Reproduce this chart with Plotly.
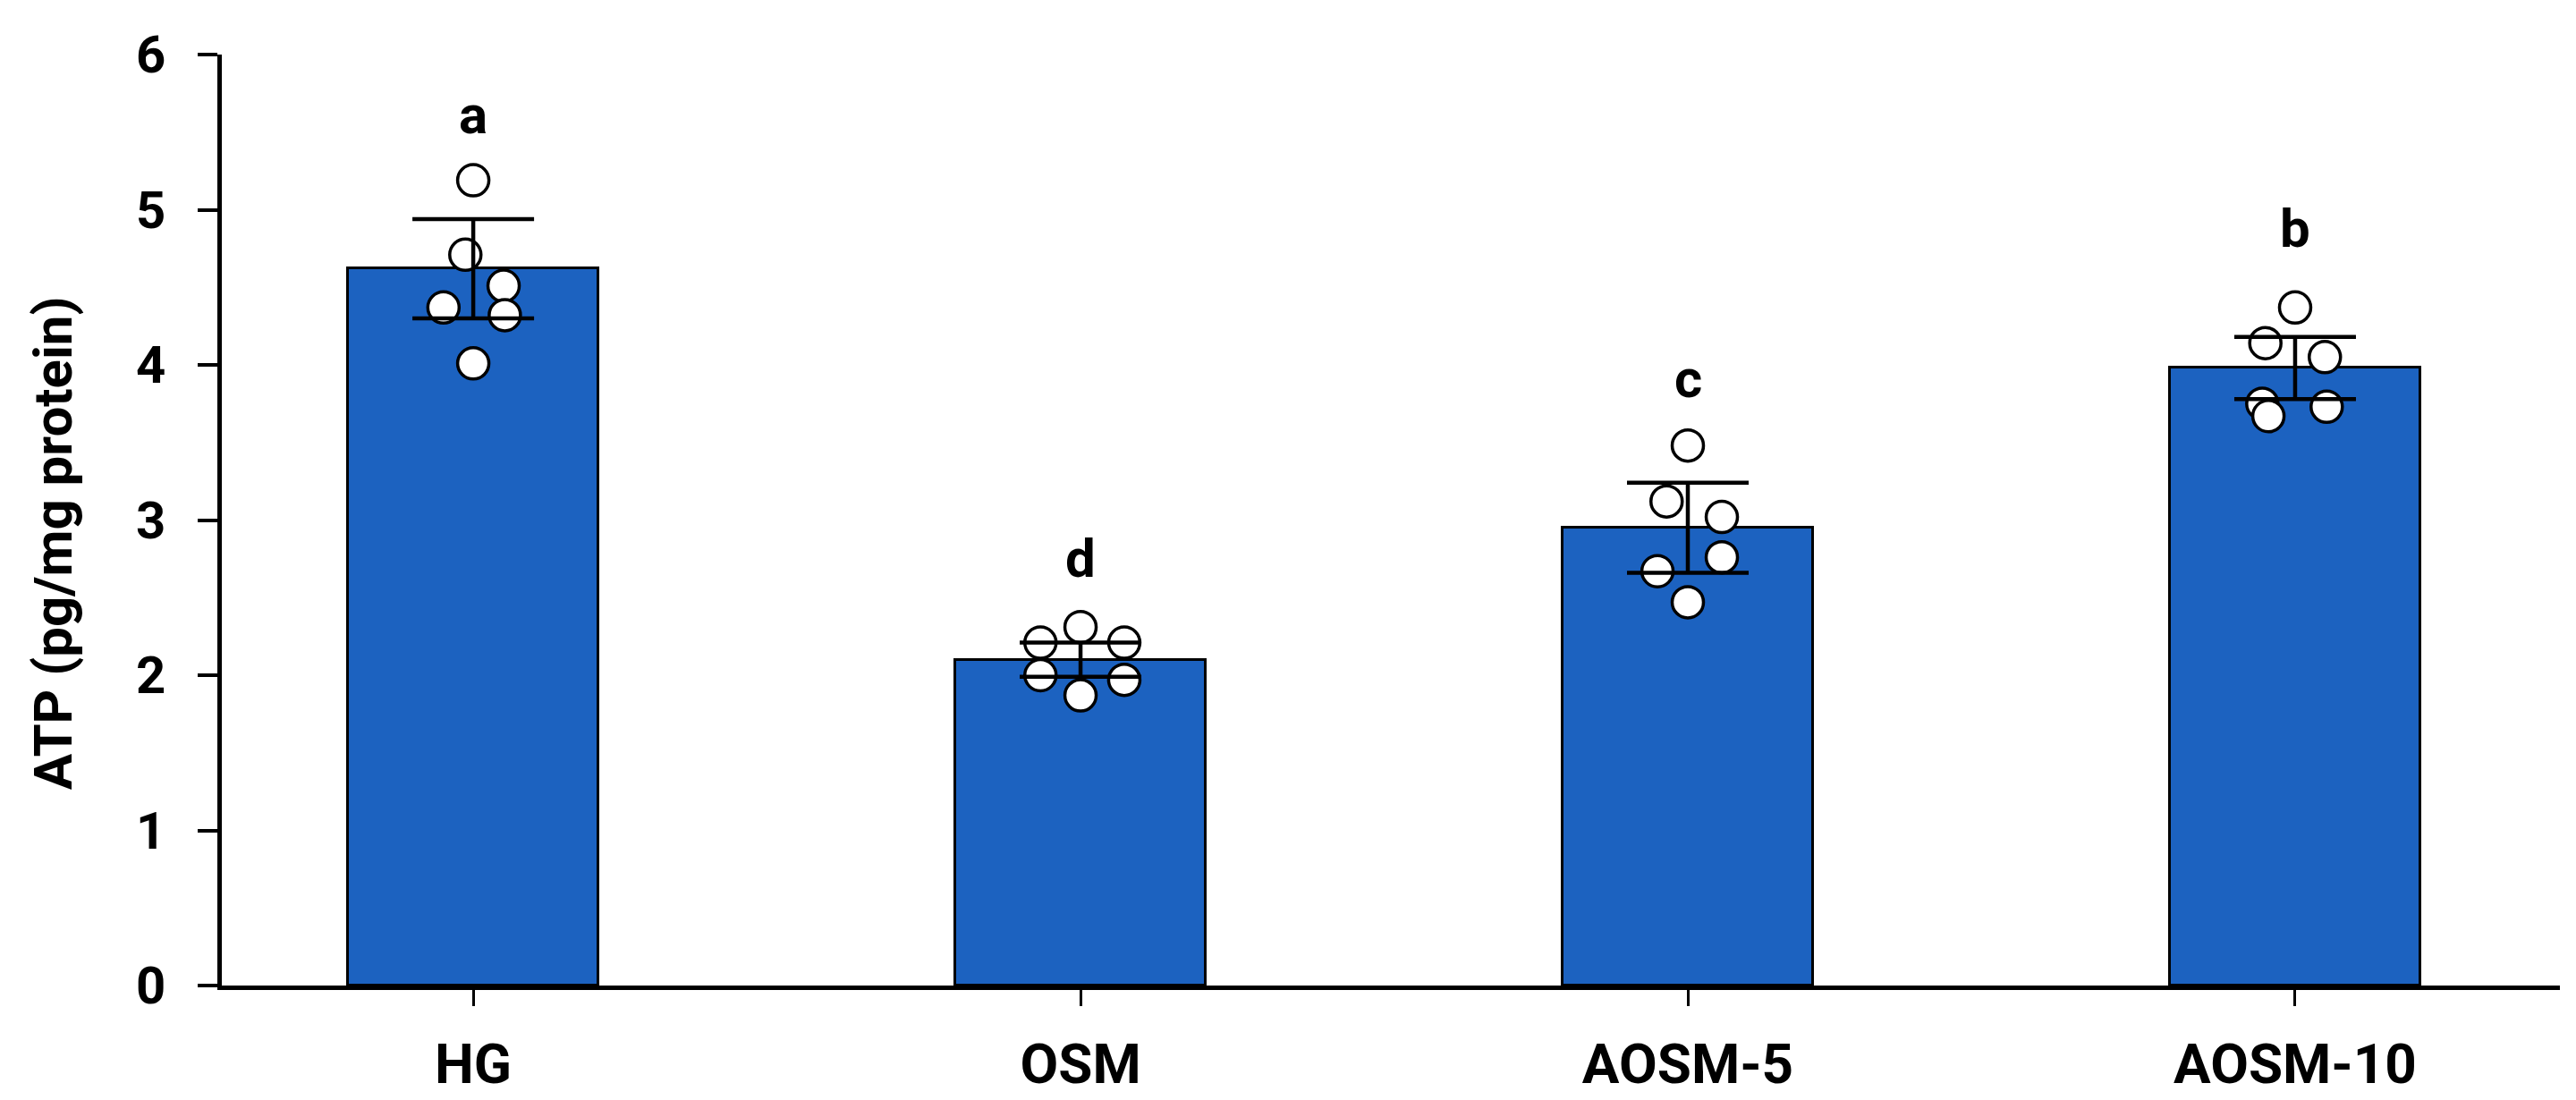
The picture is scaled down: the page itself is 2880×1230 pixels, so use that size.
import plotly.graph_objects as go

# groups and summary values
groups = ["HG", "OSM", "AOSM-5", "AOSM-10"]
means = [4.62, 2.10, 2.95, 3.98]
sd = [0.32, 0.11, 0.29, 0.20]
letters = ["a", "d", "c", "b"]
letter_y = [5.61, 2.75, 3.91, 4.88]

# individual replicates
hg = [5.19, 4.71, 4.51, 4.37, 4.32, 4.01]
osm = [2.31, 2.21, 2.21, 2.00, 1.97, 1.87]
aosm5 = [3.48, 3.12, 3.02, 2.76, 2.67, 2.47]
aosm10 = [4.37, 4.14, 4.05, 3.75, 3.73, 3.67]
points = [hg, osm, aosm5, aosm10]

# horizontal scatter of the dots around each bar centre
jitter = [
    [0, -0.013, 0.05, -0.049, 0.052, 0],
    [0, -0.066, 0.072, -0.066, 0.072, 0],
    [0, -0.035, 0.056, 0.056, -0.05, 0],
    [0, -0.049, 0.049, -0.054, 0.052, -0.044],
]

FONT = "Roboto"
BLUE = "#1C62C0"

fig = go.Figure()

fig.add_trace(go.Bar(
    x=list(range(len(groups))), y=means, width=0.412,
    marker=dict(color=BLUE, line=dict(color="black", width=3)),
    showlegend=False, hoverinfo="skip",
))

# dots
for i, vals in enumerate(points):
    fig.add_trace(go.Scatter(
        x=[i + j for j in jitter[i]], y=vals, mode="markers",
        marker=dict(size=35, color="white", line=dict(color="black", width=3.5)),
        showlegend=False,
    ))

# error bars on top of the dots
fig.add_trace(go.Scatter(
    x=list(range(len(groups))), y=means, mode="markers",
    marker=dict(size=1, opacity=0),
    error_y=dict(type="data", array=sd, visible=True,
                 color="black", thickness=4.5, width=68),
    showlegend=False, hoverinfo="skip",
))

# significance letters
for i, (lt, ly) in enumerate(zip(letters, letter_y)):
    fig.add_annotation(x=i, y=ly, text=f"<b>{lt}</b>", showarrow=False,
                       font=dict(family=FONT, size=60, color="black"))

# y axis title (sits a little below the middle of the axis)
fig.add_annotation(xref="paper", yref="paper", x=-0.072, y=0.475,
                   text="<b>ATP (pg/mg protein)</b>", textangle=-90,
                   showarrow=False, xanchor="center", yanchor="middle",
                   font=dict(family=FONT, size=60, color="black"))

fig.update_layout(
    width=2880, height=1230,
    margin=dict(l=240, r=26, t=53, b=111),
    paper_bgcolor="white", plot_bgcolor="white",
    font=dict(family=FONT, color="black"),
    bargap=0,
)

fig.update_xaxes(
    range=[-0.414, 3.436],
    tickmode="array", tickvals=list(range(len(groups))),
    ticktext=[f"<b>{g}</b>" for g in groups],
    tickfont=dict(family=FONT, size=62, color="black"),
    showline=True, linecolor="black", linewidth=5,
    ticks="outside", ticklen=18, tickwidth=3, tickcolor="black",
    ticklabelstandoff=12,
    showgrid=False, zeroline=False,
)

fig.update_yaxes(
    range=[0, 6], tickmode="array", tickvals=[0, 1, 2, 3, 4, 5, 6],
    ticktext=[f"<b>{v}</b>" for v in range(7)],
    tickfont=dict(family=FONT, size=58, color="black"),
    showline=True, linecolor="black", linewidth=5,
    ticks="outside", ticklen=22, tickwidth=4, tickcolor="black",
    ticklabelstandoff=24,
    showgrid=False, zeroline=False,
)

fig.write_html("out.html")
